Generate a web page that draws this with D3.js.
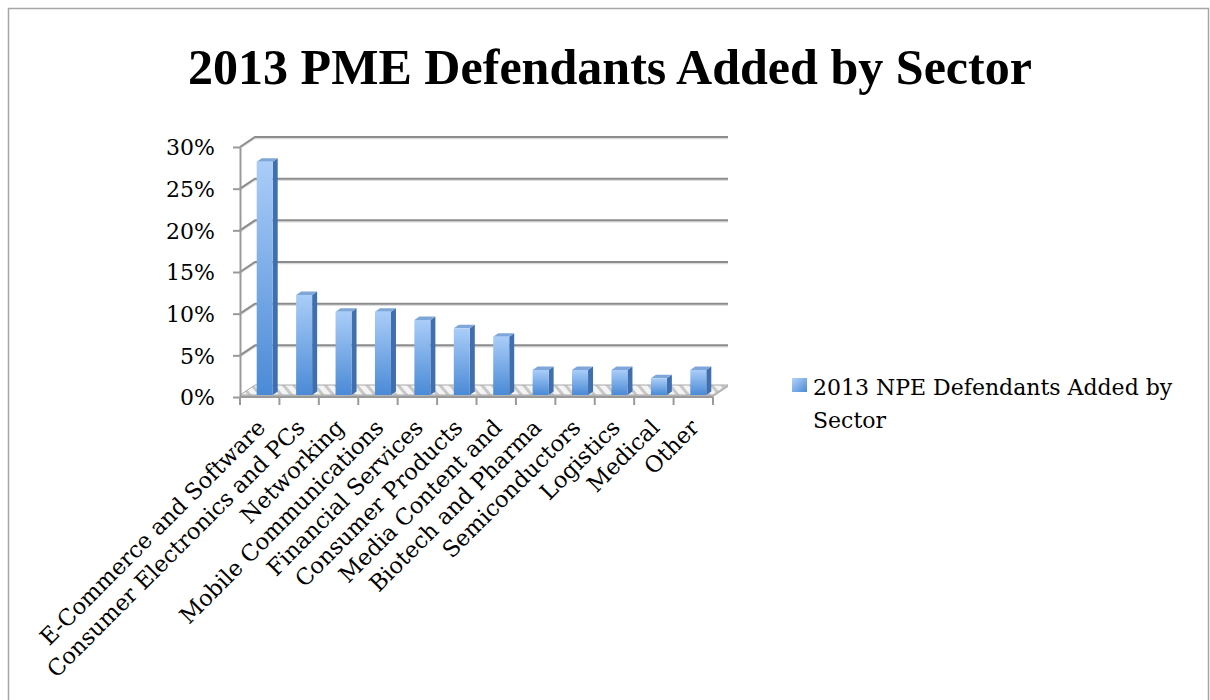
<!DOCTYPE html>
<html>
<head>
<meta charset="utf-8">
<script src="https://cdn.jsdelivr.net/npm/d3@7"></script>
<style>
    body { margin: 0; background: #fff; }
    .tickLabel, .legendText { font-family: "DejaVu Serif", serif; font-size: 22px; fill: #000; }
    .catLabel { font-family: "DejaVu Serif", serif; font-size: 22.5px; fill: #000; }
    .chartTitle { font-family: "Liberation Serif", serif; font-weight: bold; font-size: 50px; fill: #000; }
</style>
</head>
<body>
<script>
(function(){

    //chart data
    var categories = ["E-Commerce and Software", "Consumer Electronics and PCs", "Networking",
        "Mobile Communications", "Financial Services", "Consumer Products", "Media Content and",
        "Biotech and Pharma", "Semiconductors", "Logistics", "Medical", "Other"];
    var values = [28, 12, 10, 10, 9, 8, 7, 3, 3, 3, 2, 3];
    var yTicks = [0, 5, 10, 15, 20, 25, 30];
    var seriesName = ["2013 NPE Defendants Added by", "Sector"];
    var titleText = "2013 PME Defendants Added by Sector";

    //begin script when window loads
    window.onload = setChart();

    function setChart(){
        //frame dimensions
        var width = 1210,
            height = 700,
            left = 240,
            right = 713,
            bottom = 397,
            top = 147,
            depthX = 15,
            depthY = -10,
            barW = 16;

        var svg = d3.select("body")
            .append("svg")
            .attr("width", width)
            .attr("height", height);

        var defs = svg.append("defs");

        //bar face gradient
        var grad = defs.append("linearGradient")
            .attr("id", "barGrad")
            .attr("x1", 0).attr("y1", 0).attr("x2", 0).attr("y2", 1);
        grad.append("stop").attr("offset", "0%").attr("stop-color", "#aacdf8");
        grad.append("stop").attr("offset", "100%").attr("stop-color", "#4a8ad6");

        var legGrad = defs.append("linearGradient")
            .attr("id", "legGrad")
            .attr("x1", 0).attr("y1", 0).attr("x2", 1).attr("y2", 1);
        legGrad.append("stop").attr("offset", "0%").attr("stop-color", "#b3d3fa");
        legGrad.append("stop").attr("offset", "100%").attr("stop-color", "#4a8ad6");

        //hatched floor pattern
        var pat = defs.append("pattern")
            .attr("id", "floorPat")
            .attr("patternUnits", "userSpaceOnUse")
            .attr("width", 8).attr("height", 8)
            .attr("patternTransform", "rotate(-40)");
        pat.append("rect").attr("width", 8).attr("height", 8).attr("fill", "#f4f4f4");
        pat.append("rect").attr("width", 3).attr("height", 8).attr("fill", "#c8c8c8");

        //outer border
        svg.append("rect")
            .attr("x", 8.5).attr("y", 8.5)
            .attr("width", 1200).attr("height", 720)
            .attr("fill", "none")
            .attr("stroke", "#a6a6a6")
            .attr("stroke-width", 1.5);

        //title
        svg.append("text")
            .attr("class", "chartTitle")
            .attr("x", 610)
            .attr("y", 84)
            .attr("text-anchor", "middle")
            .attr("textLength", 844)
            .attr("lengthAdjust", "spacingAndGlyphs")
            .text(titleText);

        //scales
        var x = d3.scaleBand()
            .domain(categories)
            .range([left, right]);

        var y = d3.scaleLinear()
            .domain([0, 30])
            .range([bottom, top]);

        //gridlines on side and back walls
        var grid = svg.append("g").attr("class", "grid");
        grid.selectAll(".gridShadow")
            .data(yTicks.slice(1))
            .enter()
            .append("polyline")
            .attr("points", function(d){
                return [[left, y(d) + 1.5], [left + depthX, y(d) + depthY + 1.5], [right + depthX, y(d) + depthY + 1.5]].join(" ");
            })
            .attr("fill", "none")
            .attr("stroke", "#dcdcdc")
            .attr("stroke-width", 1.5);
        grid.selectAll(".gridLine")
            .data(yTicks.slice(1))
            .enter()
            .append("polyline")
            .attr("points", function(d){
                return [[left, y(d)], [left + depthX, y(d) + depthY], [right + depthX, y(d) + depthY]].join(" ");
            })
            .attr("fill", "none")
            .attr("stroke", "#8c8c8c")
            .attr("stroke-width", 2);

        //floor
        svg.append("polygon")
            .attr("points", [[left, bottom - 2], [right, bottom - 2], [right + depthX, bottom - 2 + depthY], [left + depthX, bottom - 2 + depthY]].join(" "))
            .attr("fill", "url(#floorPat)")
            .attr("stroke", "#a8a8a8")
            .attr("stroke-width", 1);
        svg.append("rect")
            .attr("x", left).attr("y", bottom - 2)
            .attr("width", right - left).attr("height", 2)
            .attr("fill", "#b4b4b4");
        svg.append("polygon")
            .attr("points", [[right, bottom - 2], [right + depthX, bottom - 2 + depthY], [right + depthX, bottom + depthY], [right, bottom]].join(" "))
            .attr("fill", "#b4b4b4");

        //bars
        var bw = x.bandwidth();
        var bars = svg.selectAll(".bar")
            .data(categories.map(function(c, i){ return {cat: c, val: values[i]}; }))
            .enter()
            .append("g")
            .attr("class", "bar");

        function bx(d){ return x(d.cat) + (bw - barW) / 2 + 5; }
        function by(d){ return y(d.val) - 2; }
        var base = y(0) - 2;

        bars.append("polygon")
            .attr("points", function(d){
                var x0 = bx(d) + barW, y0 = by(d);
                return [[x0, y0], [x0 + 5, y0 - 3.5], [x0 + 5, base - 3.5], [x0, base]].join(" ");
            })
            .attr("fill", "#3f6fae");
        bars.append("polygon")
            .attr("points", function(d){
                var x0 = bx(d), y0 = by(d);
                return [[x0, y0], [x0 + 5, y0 - 3.5], [x0 + barW + 5, y0 - 3.5], [x0 + barW, y0]].join(" ");
            })
            .attr("fill", "#7fa6d8");
        bars.append("rect")
            .attr("x", bx)
            .attr("y", by)
            .attr("width", barW)
            .attr("height", function(d){ return base - by(d); })
            .attr("fill", "url(#barGrad)");

        //vertical axis
        var yAxis = d3.axisLeft(y)
            .tickValues(yTicks)
            .tickFormat(function(d){ return d + "%"; })
            .tickSizeInner(7)
            .tickSizeOuter(0)
            .tickPadding(18);

        var axis = svg.append("g")
            .attr("class", "axis")
            .attr("transform", "translate(" + left + ",0)")
            .call(yAxis);
        axis.select(".domain").attr("stroke", "#9a9a9a").attr("stroke-width", 2);
        axis.selectAll(".tick line").attr("stroke", "#9a9a9a").attr("stroke-width", 2);
        axis.selectAll(".tick text")
            .attr("class", "tickLabel")
            .attr("dy", "0.36em")
            .attr("font-family", null)
            .attr("font-size", null);

        //horizontal axis ticks at band edges
        var edges = categories.map(function(c){ return x(c); }).concat([right]);
        svg.selectAll(".xTick")
            .data(edges)
            .enter()
            .append("line")
            .attr("x1", function(d){ return d; })
            .attr("x2", function(d){ return d; })
            .attr("y1", bottom)
            .attr("y2", bottom + 8)
            .attr("stroke", "#9a9a9a")
            .attr("stroke-width", 2);
        svg.append("line")
            .attr("x1", left).attr("x2", right)
            .attr("y1", bottom).attr("y2", bottom)
            .attr("stroke", "#9a9a9a")
            .attr("stroke-width", 2);

        //category labels
        svg.selectAll(".catLabel")
            .data(categories)
            .enter()
            .append("text")
            .attr("class", "catLabel")
            .attr("text-anchor", "end")
            .attr("transform", function(d){
                return "translate(" + (x(d) + bw / 2 + 7) + "," + 429 + ") rotate(-45)";
            })
            .text(function(d){ return d; });

        //legend
        svg.append("rect")
            .attr("x", 792).attr("y", 378)
            .attr("width", 15).attr("height", 14)
            .attr("fill", "url(#legGrad)");
        svg.append("text")
            .attr("class", "legendText")
            .selectAll("tspan")
            .data(seriesName)
            .enter()
            .append("tspan")
            .attr("x", 813)
            .attr("y", function(d, i){ return 395 + i * 33; })
            .text(function(d){ return d; });
    };

})();
</script>
</body>
</html>
